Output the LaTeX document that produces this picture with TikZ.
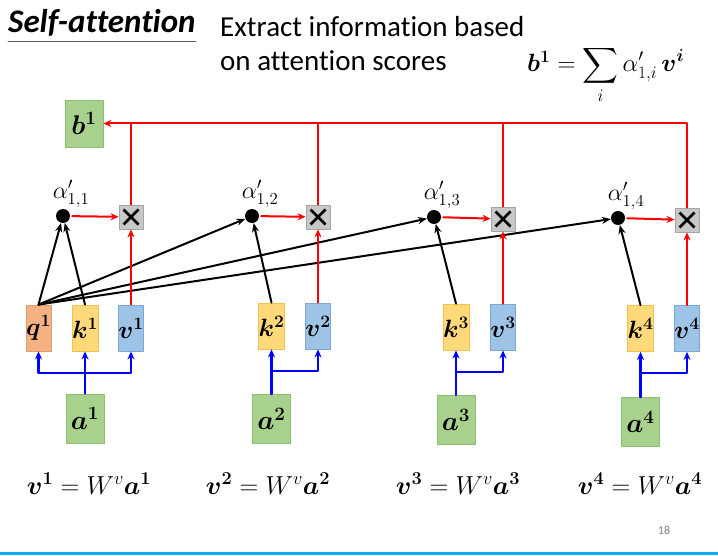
\RequirePackage{fix-cm}
\documentclass[tikz,border=0pt]{standalone}
\usepackage{amsmath}
\usepackage{bm}
\usepackage[no-math]{fontspec}
\setmainfont{Carlito}[Ligatures=NoCommon]
\usetikzlibrary{positioning,calc,arrows.meta}

\definecolor{qfill}{HTML}{F4B183}
\definecolor{qedge}{HTML}{E39A72}
\definecolor{kfill}{HTML}{FFD97A}
\definecolor{kedge}{HTML}{F2C14E}
\definecolor{vfill}{HTML}{9DC3E6}
\definecolor{vedge}{HTML}{7FA7D6}
\definecolor{afill}{HTML}{A9D18E}
\definecolor{aedge}{HTML}{8CBF6E}
\definecolor{xfill}{HTML}{C8C8C8}
\definecolor{xedge}{HTML}{A5A5A5}
\definecolor{slideblue}{HTML}{00B0F0}

\begin{document}
\begin{tikzpicture}[x=1pt,y=-1pt,line cap=round,line join=round,
  box/.style={draw,line width=0.8pt,minimum width=25pt,minimum height=46pt,
    inner sep=0pt,font=\fontsize{25}{28}\selectfont},
  qbox/.style={box,fill=qfill,draw=qedge},
  kbox/.style={box,fill=kfill,draw=kedge},
  vbox/.style={box,fill=vfill,draw=vedge},
  abox/.style={box,fill=afill,draw=aedge,minimum width=38pt,minimum height=49pt,
    font=\fontsize{27}{30}\selectfont},
  xbox/.style={draw=xedge,fill=xfill,line width=0.8pt,minimum size=24pt,inner sep=0pt,
    path picture={\draw[black,line width=2.6pt,line cap=butt]
      ([shift={(4.5pt,4.5pt)}]path picture bounding box.south west) --
      ([shift={(-4.5pt,-4.5pt)}]path picture bounding box.north east)
      ([shift={(4.5pt,-4.5pt)}]path picture bounding box.north west) --
      ([shift={(-4.5pt,4.5pt)}]path picture bounding box.south east);}},
  dot/.style={circle,fill=black,inner sep=0pt,minimum size=14pt},
  score/.style={anchor=south,inner sep=1pt,font=\fontsize{24}{27}\selectfont},
  formula/.style={anchor=base,inner sep=0pt,font=\fontsize{26}{30}\selectfont},
  qk/.style={line width=2pt,-{Stealth[length=9pt,width=7pt]}},
  redline/.style={red,line width=2pt},
  redarrow/.style={redline,-{Stealth[length=8pt,width=7pt]}},
  bluearrow/.style={blue,line width=2.3pt,-{Stealth[length=8pt,width=7pt]}},
  ]
  \useasboundingbox (0,0) rectangle (718,556);

  %--- Heading ----------------------------------------------------------------
  \node[anchor=base west,inner sep=0pt,font=\fontsize{33}{38}\selectfont\bfseries\itshape]
    (title) at (8,33) {Self-attention};
  \draw[gray!70!black,line width=1pt] ([yshift=-9pt]title.base west) -- ([yshift=-9pt]title.base east);
  \node[anchor=base west,inner sep=0pt,font=\fontsize{29}{34}\selectfont] (intro1) at (220,37)
    {Extract information based};
  \node[anchor=base west,inner sep=0pt,font=\fontsize{29}{34}\selectfont] (intro2) at (220,71)
    {on attention scores};
  \node[anchor=base west,inner sep=0pt,font=\fontsize{25}{30}\selectfont] (bsum) at (527,72)
    {$\bm{b}^{\bm{1}} = \displaystyle\sum_i \alpha'_{1,i}\,\bm{v}^{\bm{i}}$};

  %--- Output b1 --------------------------------------------------------------
  \node[abox,minimum height=47pt] (b1) at (84,123.5) {$\bm{b}^{\bm{1}}$};

  %--- Attention scores and products ------------------------------------------
  \node[dot] (d1) at (63,216) {};
  \node[dot] (d2) at (252,216) {};
  \node[dot] (d3) at (434,217) {};
  \node[dot] (d4) at (618,218) {};
  \node[score] at ([xshift=8pt]d1.north) {$\alpha'_{1,1}$};
  \node[score] at ([xshift=8pt]d2.north) {$\alpha'_{1,2}$};
  \node[score] at ([xshift=8pt]d3.north) {$\alpha'_{1,3}$};
  \node[score] at ([xshift=8pt]d4.north) {$\alpha'_{1,4}$};

  \node[xbox] (x1) at (131,217) {};
  \node[xbox] (x2) at (318,217) {};
  \node[xbox] (x3) at (503,219) {};
  \node[xbox] (x4) at (687,220) {};

  %--- Queries, keys and values -----------------------------------------------
  \node[qbox] (q1) at (38.5,328) {$\bm{q}^{\bm{1}}$};
  \node[kbox] (k1) at (85,328) {$\bm{k}^{\bm{1}}$};
  \node[vbox] (v1) at (131,328) {$\bm{v}^{\bm{1}}$};
  \node[kbox] (k2) at (271.5,326) {$\bm{k}^{\bm{2}}$};
  \node[vbox] (v2) at (318,326) {$\bm{v}^{\bm{2}}$};
  \node[kbox] (k3) at (456,327) {$\bm{k}^{\bm{3}}$};
  \node[vbox] (v3) at (503,327) {$\bm{v}^{\bm{3}}$};
  \node[kbox] (k4) at (640.5,328.5) {$\bm{k}^{\bm{4}}$};
  \node[vbox] (v4) at (687,328.5) {$\bm{v}^{\bm{4}}$};

  %--- Inputs -----------------------------------------------------------------
  \node[abox] (a1) at (85,418.5) {$\bm{a}^{\bm{1}}$};
  \node[abox] (a2) at (271.5,419) {$\bm{a}^{\bm{2}}$};
  \node[abox] (a3) at (456,420) {$\bm{a}^{\bm{3}}$};
  \node[abox] (a4) at (640.5,422) {$\bm{a}^{\bm{4}}$};

  % Branch points of the blue arrows
  \coordinate (j1) at (85,373);
  \coordinate (j2) at (271.5,371);
  \coordinate (j3) at (456,372);
  \coordinate (j4) at (640.5,373);

  \draw[bluearrow] (a1.north) -- (k1.south);
  \draw[bluearrow] (j1) -| (q1.south);
  \draw[bluearrow] (j1) -| (v1.south);
  \draw[bluearrow] (a2.north) -- (k2.south);
  \draw[bluearrow] (j2) -| (v2.south);
  \draw[bluearrow] (a3.north) -- (k3.south);
  \draw[bluearrow] (j3) -| (v3.south);
  \draw[bluearrow] (a4.north) -- (k4.south);
  \draw[bluearrow] (j4) -| (v4.south);

  %--- Query-key products -----------------------------------------------------
  \draw[qk] (q1.north) -- (d1);
  \draw[qk] (q1.north) -- (d2);
  \draw[qk] (q1.north) -- (d3);
  \draw[qk] (q1.north) -- (d4);
  \draw[qk] (k1.north) -- (d1);
  \draw[qk] (k2.north) -- (d2);
  \draw[qk] (k3.north) -- (d3);
  \draw[qk] (k4.north) -- (d4);

  %--- Weighted values, summed into b1 ----------------------------------------
  \draw[redarrow,shorten <=2pt] (d1) -- (x1);
  \draw[redarrow,shorten <=2pt] (d2) -- (x2);
  \draw[redarrow,shorten <=2pt] (d3) -- (x3);
  \draw[redarrow,shorten <=2pt] (d4) -- (x4);
  \draw[redarrow] (v1) -- (x1);
  \draw[redarrow] (v2) -- (x2);
  \draw[redarrow] (v3) -- (x3);
  \draw[redarrow] (v4) -- (x4);
  \draw[redarrow] (x4.north) |- (b1.east);
  \draw[redline] (x1.north) -- (x1.north |- b1.east);
  \draw[redline] (x2.north) -- (x2.north |- b1.east);
  \draw[redline] (x3.north) -- (x3.north |- b1.east);

  %--- Value equations --------------------------------------------------------
  \node[formula] (e1) at (89,494) {$\bm{v}^{\bm{1}} = W^v\bm{a}^{\bm{1}}$};
  \node[formula] (e2) at (268,494) {$\bm{v}^{\bm{2}} = W^v\bm{a}^{\bm{2}}$};
  \node[formula] (e3) at (458,494) {$\bm{v}^{\bm{3}} = W^v\bm{a}^{\bm{3}}$};
  \node[formula] (e4) at (640,494) {$\bm{v}^{\bm{4}} = W^v\bm{a}^{\bm{4}}$};

  %--- Slide footer -----------------------------------------------------------
  \node[text=gray,font=\fontsize{12}{14}\selectfont] (page) at (664,530) {18};
  \draw[slideblue,line width=3pt,line cap=butt] (0,553.5) -- (718,553.5);
\end{tikzpicture}
\end{document}
